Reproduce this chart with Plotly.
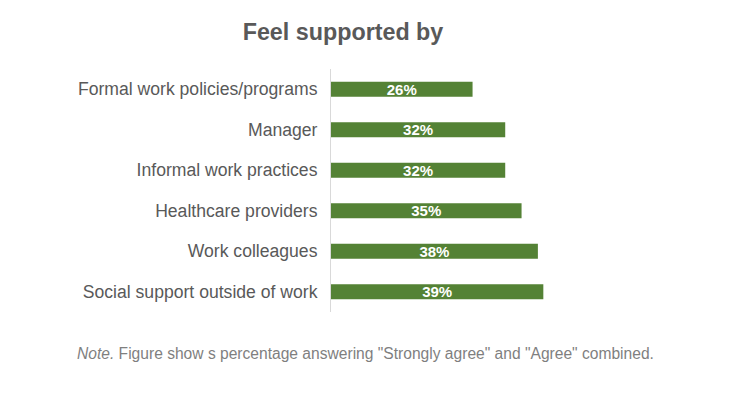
import plotly.graph_objects as go

categories = ["Formal work policies/programs", "Manager", "Informal work practices",
              "Healthcare providers", "Work colleagues", "Social support outside of work"]
values = [26, 32, 32, 35, 38, 39]
value_labels = ["26%", "32%", "32%", "35%", "38%", "39%"]

title_text = "Feel supported by"
note_text = "<i>Note.</i> Figure show s percentage answering \"Strongly agree\" and \"Agree\" combined."

FONT = "Liberation Sans, Arial"

fig = go.Figure(go.Bar(
    y=categories, x=values, orientation="h",
    marker=dict(color="#548235", line=dict(width=0)),
    width=0.37,
    text=value_labels, textposition="inside", insidetextanchor="middle",
    constraintext="none",
    textfont=dict(family=FONT, size=15, color="white", weight="bold"),
    hoverinfo="skip",
))

# page body has an 8px margin, so the figure is 740x390 and offset by 8px
fig.update_layout(
    width=740, height=390,
    paper_bgcolor="white", plot_bgcolor="white",
    margin=dict(l=323, r=172, t=61, b=86),
    showlegend=False,
    title=dict(text="<b>" + title_text + "</b>", x=0.4527, xanchor="center", y=0.938, yanchor="middle",
               font=dict(family=FONT, size=23.3, color="#595959")),
    font=dict(family=FONT),
    annotations=[dict(text=note_text, xref="paper", yref="paper", x=-1.045, y=-0.169,
                      xanchor="left", yanchor="middle", showarrow=False,
                      font=dict(family=FONT, size=15.6, color="#7f7f7f"))],
)
fig.update_xaxes(range=[0, 45], visible=False, showgrid=False, zeroline=False)
fig.update_yaxes(autorange="reversed", showgrid=False, zeroline=False,
                 showline=True, linecolor="#d9d9d9", linewidth=1,
                 ticks="", ticklabelstandoff=9,
                 tickfont=dict(family=FONT, size=17.6, color="#595959"))

fig.write_html("out.html")
